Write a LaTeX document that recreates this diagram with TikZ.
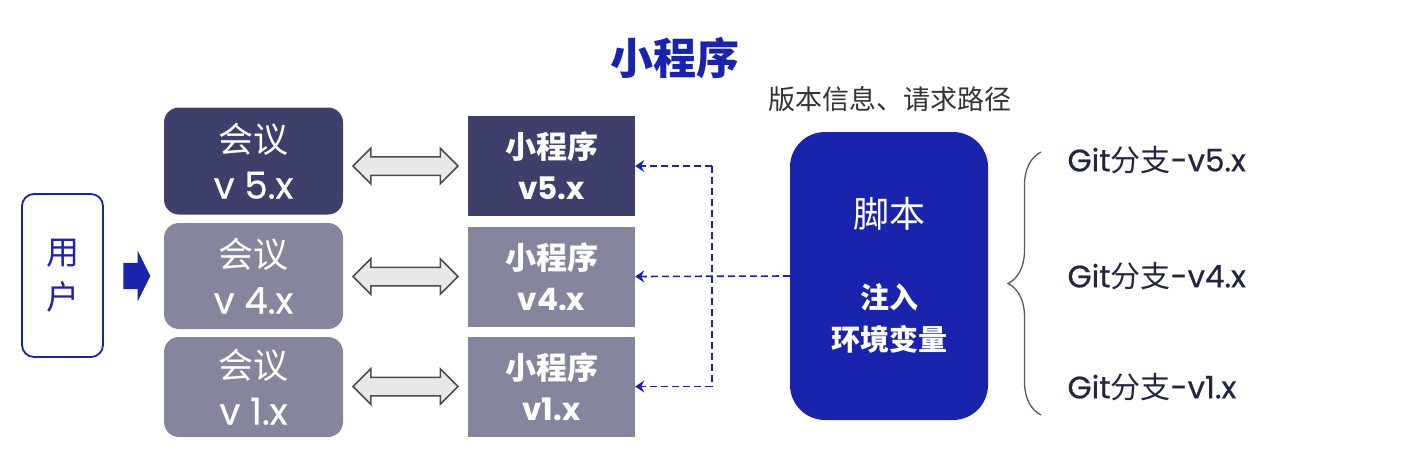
\documentclass[tikz,border=0pt]{standalone}
\usepackage{fontspec}
\setmainfont{Noto Sans CJK SC}
\newfontfamily\latinfont{Poppins}
\newfontfamily\latinmed{Poppins}[FakeBold=0.6]
\usetikzlibrary{calc,shapes.arrows,decorations.pathreplacing,arrows.meta}

\definecolor{navydark}{HTML}{3E3F6A}
\definecolor{navygray}{HTML}{85869D}
\definecolor{deepblue}{HTML}{1A23AB}
\definecolor{inkgit}{HTML}{23263F}

\begin{document}
\begin{tikzpicture}[x=1pt, y=-1pt]  % 1 unit = 1 px of the layout, y runs downwards

    % Define some common styles
    \tikzset{
        meetbox/.style={rounded corners=15pt, minimum width=179pt, text=white, align=center, inner sep=0pt, font=\fontsize{35}{46}\selectfont},
        minibox/.style={minimum width=167pt, minimum height=100pt, text=white, align=center, inner sep=0pt, font=\bfseries\fontsize{31}{41}\selectfont},
        swaparrow/.style={double arrow, draw=black!70, fill=black!9, line width=1.5pt, inner xsep=0pt, inner ysep=8.5pt, minimum height=105pt, double arrow head extend=8.5pt, double arrow tip angle=90},
        injectline/.style={deepblue, line width=1.6pt, dash pattern=on 7pt off 4pt, -{Stealth[length=9pt,width=12pt,inset=3pt]}},
        gitlabel/.style={anchor=west, text=inkgit, font=\fontsize{30}{30}\selectfont}
    }

    \useasboundingbox (0,0) rectangle (1410,464);

    % Title and note above the script
    \node[text=deepblue, font=\bfseries\fontsize{43}{43}\selectfont] (title) at (675,58) {小程序};
    \node[text=black!80, font=\fontsize{27}{27}\selectfont] (pathnote) at (890,99) {版本信息、请求路径};

    % User box and entry arrow
    \node[draw=deepblue, line width=1.8pt, rounded corners=12pt, fill=white, minimum width=81pt, minimum height=163pt, text=deepblue, align=center, font=\fontsize{33}{45}\selectfont] (user) at (62.5,275.5) {用\\户};
    \node[single arrow, fill=deepblue, inner xsep=0pt, inner ysep=13pt, minimum height=27pt, single arrow head extend=12pt, single arrow tip angle=127] (entry) at (133.5,276) {};

    % Meeting versions
    \node[meetbox, fill=navydark, minimum height=107pt] (m5) at (253.5,161) {会议\\{\latinmed\fontsize{37}{46}\selectfont v 5.x}};
    \node[meetbox, fill=navygray, minimum height=106pt] (m4) at (253.5,276) {会议\\{\latinmed\fontsize{37}{46}\selectfont v 4.x}};
    \node[meetbox, fill=navygray, minimum height=100pt] (m1) at (253.5,387) {会议\\{\latinmed\fontsize{37}{46}\selectfont v 1.x}};

    % Mini program versions
    \node[minibox, fill=navydark] (p5) at (551.5,166) {小程序\\{\latinfont v5.x}};
    \node[minibox, fill=navygray] (p4) at (551.5,276.5) {小程序\\{\latinfont v4.x}};
    \node[minibox, fill=navygray] (p1) at (551.5,386.5) {小程序\\{\latinfont v1.x}};

    % Two-way arrows between them
    \node[swaparrow] (s5) at ($(m5.east |- p5.west)!0.5!(p5.west)$) {};
    \node[swaparrow] (s4) at ($(m4.east |- p4.west)!0.5!(p4.west)$) {};
    \node[swaparrow] (s1) at ($(m1.east |- p1.west)!0.5!(p1.west)$) {};

    % Script block
    \node[fill=deepblue, rounded corners=35pt, minimum width=198pt, minimum height=288pt] (script) at (889,276) {};
    \node[text=white, font=\fontsize{36}{36}\selectfont] (scriptname) at ($(script.north)+(0,82)$) {脚本};
    \node[text=white, align=center, font=\bfseries\fontsize{29}{42}\selectfont] (inject) at ($(script.north)+(0,187)$) {注入\\环境变量};

    % Dashed injection lines
    \coordinate (fork5) at ($(p5.east)+(77,0)$);
    \coordinate (fork1) at ($(p1.east)+(77,0)$);
    \draw[injectline] (script.west) -- (p4.east);
    \draw[injectline] (fork5) -- (p5.east);
    \draw[injectline] (fork1) -- (p1.east);
    \draw[injectline, -] (fork5) -- (fork1);

    % Brace and git branches
    \coordinate (bracetop) at (1041,152);
    \coordinate (bracebot) at (1041,415);
    \draw[decorate, decoration={brace, amplitude=33pt}, black!65, line width=1.3pt] (bracebot) -- (bracetop);
    \node[gitlabel] (git5) at (1064,160) {{\latinmed\fontsize{31}{30}\selectfont Git}分支{\latinmed\fontsize{31}{30}\selectfont -v5.x}};
    \node[gitlabel] (git4) at (1064,276) {{\latinmed\fontsize{31}{30}\selectfont Git}分支{\latinmed\fontsize{31}{30}\selectfont -v4.x}};
    \node[gitlabel] (git1) at (1064,387) {{\latinmed\fontsize{31}{30}\selectfont Git}分支{\latinmed\fontsize{31}{30}\selectfont -v1.x}};

\end{tikzpicture}
\end{document}
